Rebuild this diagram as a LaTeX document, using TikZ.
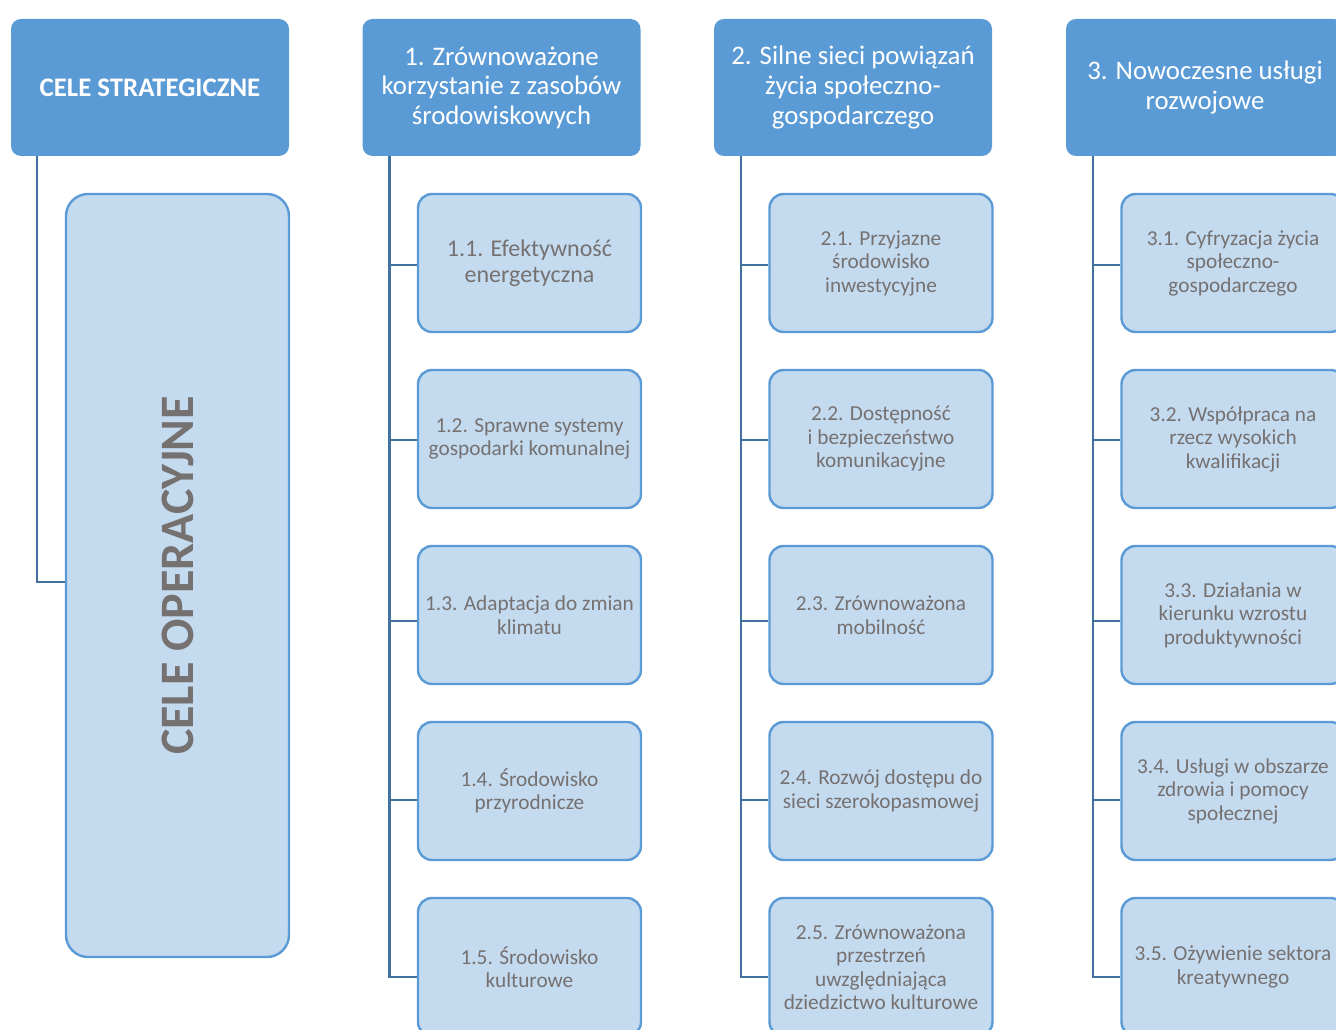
\documentclass[tikz,border=0pt]{standalone}
\usepackage{fontspec}
\setmainfont{Carlito}
\definecolor{hblue}{HTML}{5B9BD5}
\definecolor{lblue}{HTML}{C3DAEF}
\definecolor{tgray}{HTML}{767171}
\definecolor{cblue}{HTML}{41719C}
\begin{document}
\begin{tikzpicture}[x=1pt,y=-1pt,
 hdr/.style={fill=hblue, draw=none, rounded corners=10pt, minimum width=278pt, minimum height=137pt, text=white, align=center, font=\fontsize{26.8}{29.5}\selectfont, inner sep=0pt},
 sub/.style={fill=lblue, draw=hblue, line width=2.4pt, rounded corners=14pt, minimum width=223pt, minimum height=138pt, text=tgray, align=center, font=\fontsize{21.3}{23.5}\selectfont, inner sep=0pt},
 conn/.style={draw=cblue, line width=2.6pt}]
\useasboundingbox (0,0) rectangle (1336,1030);
\clip (0,0) rectangle (1336,1030);
% headers
\node[hdr, font=\bfseries\fontsize{26.8}{30}\selectfont] (h0) at (150,87.5) {CELE STRATEGICZNE};
\node[hdr] (h1) at (501.5,87.5) {1. Zrównoważone\\korzystanie z zasobów\\środowiskowych};
\node[hdr] (h2) at (853,87.5) {2. Silne sieci powiązań\\życia społeczno-\\gospodarczego};
\node[hdr] (h3) at (1205,87.5) {3. Nowoczesne usługi\\rozwojowe};
% big box
\node[sub, minimum height=763pt, rounded corners=22pt] (ops) at (177.5,575.5) {};
\node[rotate=90, text=tgray, font=\bfseries\fontsize{48}{50}\selectfont] (opst) at (ops.center) {CELE OPERACYJNE};
% column 1
\node[sub, font=\fontsize{24}{26}\selectfont] (s11) at (529.5,263) {1.1. Efektywność\\energetyczna};
\node[sub] (s12) at (529.5,439) {1.2. Sprawne systemy\\gospodarki komunalnej};
\node[sub] (s13) at (529.5,615) {1.3. Adaptacja do zmian\\klimatu};
\node[sub] (s14) at (529.5,791) {1.4. Środowisko\\przyrodnicze};
\node[sub] (s15) at (529.5,967) {1.5. Środowisko\\kulturowe};
% column 2
\node[sub] (s21) at (881,263) {2.1. Przyjazne\\środowisko\\inwestycyjne};
\node[sub] (s22) at (881,439) {2.2. Dostępność\\i bezpieczeństwo\\komunikacyjne};
\node[sub] (s23) at (881,615) {2.3. Zrównoważona\\mobilność};
\node[sub] (s24) at (881,791) {2.4. Rozwój dostępu do\\sieci szerokopasmowej};
\node[sub] (s25) at (881,967) {2.5. Zrównoważona\\przestrzeń\\uwzględniająca\\dziedzictwo kulturowe};
% column 3
\node[sub] (s31) at (1233,263) {3.1. Cyfryzacja życia\\społeczno-\\gospodarczego};
\node[sub] (s32) at (1233,439) {3.2. Współpraca na\\rzecz wysokich\\kwalifikacji};
\node[sub] (s33) at (1233,615) {3.3. Działania w\\kierunku wzrostu\\produktywności};
\node[sub] (s34) at (1233,791) {3.4. Usługi w obszarze\\zdrowia i pomocy\\społecznej};
\node[sub] (s35) at (1233,967) {3.5. Ożywienie sektora\\kreatywnego};
% connectors
\coordinate (t0) at ([xshift=26pt]h0.south west);
\draw[conn] (t0) |- ([yshift=-6.5pt]ops.west);
\foreach \c in {1,2,3}{
  \coordinate (t\c) at ([xshift=27pt]h\c.south west);
  \draw[conn] (t\c) |- ([yshift=-10pt]s\c5.west);
  \draw[conn] ([yshift=-2pt]s\c1.west) -- ([yshift=-2pt]s\c1.west -| t\c);
  \draw[conn] ([yshift=-1pt]s\c2.west) -- ([yshift=-1pt]s\c2.west -| t\c);
  \draw[conn] ([yshift=-6pt]s\c3.west) -- ([yshift=-6pt]s\c3.west -| t\c);
  \draw[conn] ([yshift=-9pt]s\c4.west) -- ([yshift=-9pt]s\c4.west -| t\c);
}
\end{tikzpicture}
\end{document}
